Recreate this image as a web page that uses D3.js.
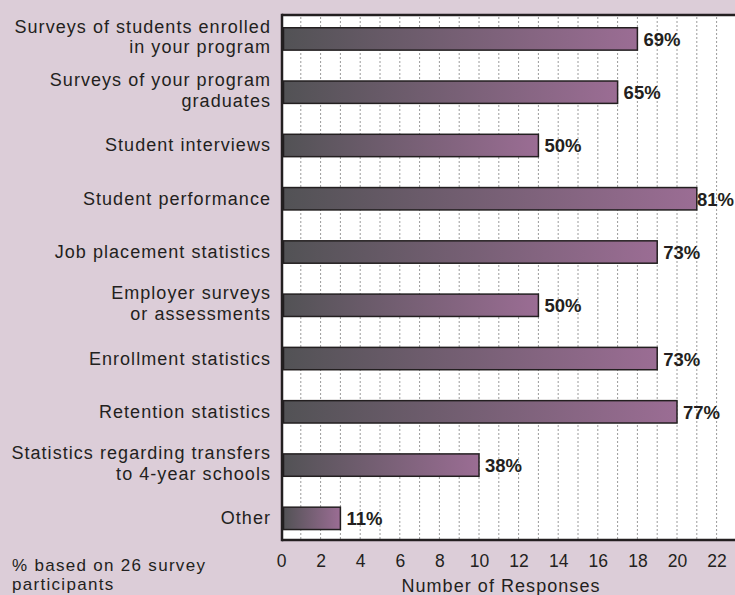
<!DOCTYPE html>
<html>
<head>
<meta charset="utf-8">
<script src="https://cdn.jsdelivr.net/npm/d3@7"></script>
<style>
  html, body { margin: 0; padding: 0; background: #dccdd8; }
  svg { display: block; }
  text { font-family: "Liberation Sans", Arial, Helvetica, sans-serif; fill: #231f20; }
</style>
</head>
<body>
<svg id="chart" width="735" height="595"></svg>
<script>
// Assessment methods used, by number of survey participants (n = 26)
const categories = [
  "Surveys of students enrolled\nin your program",
  "Surveys of your program\ngraduates",
  "Student interviews",
  "Student performance",
  "Job placement statistics",
  "Employer surveys\nor assessments",
  "Enrollment statistics",
  "Retention statistics",
  "Statistics regarding transfers\nto 4-year schools",
  "Other"
];
const responses = [18, 17, 13, 21, 19, 13, 19, 20, 10, 3];
const percentLabels = ["69%", "65%", "50%", "81%", "73%", "50%", "73%", "77%", "38%", "11%"];
const tickValues = [0, 2, 4, 6, 8, 10, 12, 14, 16, 18, 20, 22];
const gridValues = d3.range(1, 23);
const axisTitle = "Number of Responses";
const footnote = ["% based on 26 survey", "participants"];

const W = 735, H = 595;
const plot = { left: 282, top: 15, right: 735, bottom: 540 };
const LABEL_FONT = 18, LABEL_SPACING = "1.05px";

const svg = d3.select("#chart");

const x = d3.scaleLinear().domain([0, 22]).range([281, 716.6]);
const y = d3.scaleBand()
  .domain(categories)
  .range([12.3, 545])
  .paddingInner(0.58)
  .paddingOuter(0.29);

// gradient for bars: charcoal on the left fading into mauve
const defs = svg.append("defs");
const grad = defs.append("linearGradient")
  .attr("id", "barFill")
  .attr("x1", "0%").attr("x2", "100%")
  .attr("y1", "0%").attr("y2", "0%");
grad.append("stop").attr("offset", "0%").attr("stop-color", "#525255");
grad.append("stop").attr("offset", "100%").attr("stop-color", "#9b6d94");

// white plotting area
svg.append("rect")
  .attr("x", plot.left)
  .attr("y", plot.top)
  .attr("width", plot.right - plot.left)
  .attr("height", plot.bottom - plot.top)
  .attr("fill", "#ffffff");

// dotted vertical gridlines, one per response
svg.append("g")
  .selectAll("line")
  .data(gridValues)
  .join("line")
  .attr("x1", d => x(d)).attr("x2", d => x(d))
  .attr("y1", plot.top + 2).attr("y2", plot.bottom - 1)
  .attr("stroke", "#9a9a9a")
  .attr("stroke-width", 1)
  .attr("stroke-dasharray", "2,2");

// bars
svg.append("g")
  .selectAll("rect")
  .data(responses)
  .join("rect")
  .attr("x", x(0) + 2.5)
  .attr("y", (d, i) => y(categories[i]))
  .attr("width", d => x(d) - x(0) - 2.5)
  .attr("height", y.bandwidth())
  .attr("fill", "url(#barFill)")
  .attr("stroke", "#231f20")
  .attr("stroke-width", 1.5);

// frame: left, top and bottom rules
const frame = svg.append("g").attr("stroke", "#231f20").attr("stroke-width", 2.5);
frame.append("line").attr("x1", plot.left).attr("x2", plot.left)
  .attr("y1", plot.top - 1.25).attr("y2", plot.bottom + 1.25);
frame.append("line").attr("x1", plot.left).attr("x2", plot.right)
  .attr("y1", plot.top).attr("y2", plot.top);
frame.append("line").attr("x1", plot.left).attr("x2", plot.right)
  .attr("y1", plot.bottom).attr("y2", plot.bottom);

// value labels, kept inside the right edge when a bar runs long
svg.append("g")
  .selectAll("text")
  .data(responses)
  .join("text")
  .attr("y", (d, i) => y(categories[i]) + y.bandwidth() / 2 + 7)
  .attr("font-size", 18.5)
  .attr("font-weight", "bold")
  .text((d, i) => percentLabels[i])
  .attr("x", function (d) {
    const w = this.getComputedTextLength();
    return Math.min(x(d) + 6, W - w - 1);
  });

// category labels, right aligned
const catG = svg.append("g");
categories.forEach(c => {
  const lines = c.split("\n");
  const cy = y(c) + y.bandwidth() / 2;
  const t = catG.append("text")
    .attr("x", 271)
    .attr("text-anchor", "end")
    .attr("font-size", LABEL_FONT)
    .attr("letter-spacing", LABEL_SPACING);
  if (lines.length === 1) {
    t.append("tspan").attr("x", 271).attr("y", cy + 6).text(lines[0]);
  } else {
    t.append("tspan").attr("x", 271).attr("y", cy - 6).text(lines[0]);
    t.append("tspan").attr("x", 271).attr("y", cy + 14.5).text(lines[1]);
  }
});

// bottom axis labels
const axis = d3.axisBottom(x).tickValues(tickValues).tickSize(0).tickPadding(0);
const axG = svg.append("g").attr("transform", `translate(0,${plot.bottom})`).call(axis);
axG.select(".domain").remove();
axG.selectAll("text")
  .attr("dy", null)
  .attr("y", 27)
  .attr("font-size", 17.5)
  .attr("font-family", "Liberation Sans, Arial, sans-serif")
  .attr("fill", "#231f20");

svg.append("text")
  .attr("x", 501)
  .attr("y", 592)
  .attr("text-anchor", "middle")
  .attr("font-size", LABEL_FONT)
  .attr("letter-spacing", LABEL_SPACING)
  .text(axisTitle);

// footnote
const fn = svg.append("text").attr("font-size", 17).attr("letter-spacing", "1.3px");
fn.append("tspan").attr("x", 12).attr("y", 571).text(footnote[0]);
fn.append("tspan").attr("x", 12).attr("y", 590).text(footnote[1]);
</script>
</body>
</html>
